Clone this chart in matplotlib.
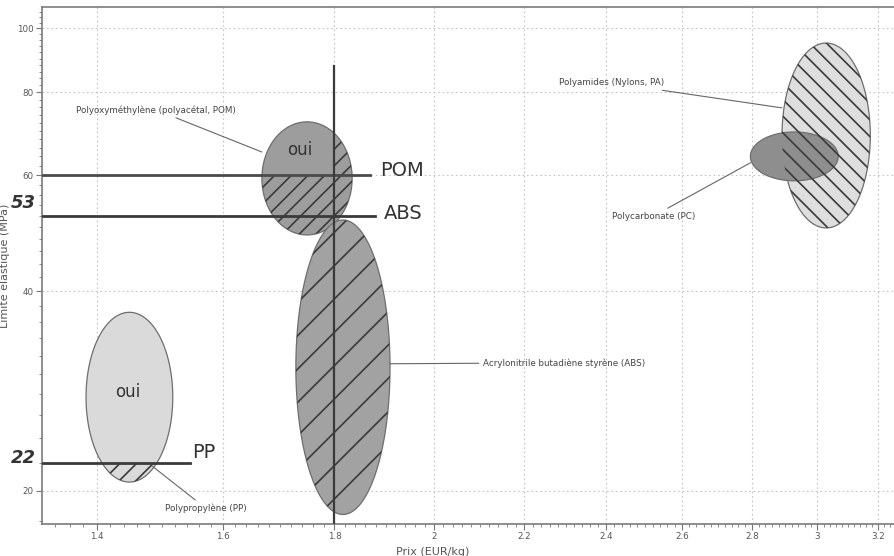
import numpy as np
import matplotlib
matplotlib.use("Agg")
import matplotlib.pyplot as plt
from matplotlib.patches import Polygon, Rectangle
from matplotlib.ticker import FixedLocator, FixedFormatter, NullFormatter

# plages des materiaux (prix EUR/kg, limite elastique MPa)
materiaux = ["POM", "ABS", "PP", "PA", "PC"]
prix_min = [1.667, 1.728, 1.384, 2.89, 2.795]
prix_max = [1.834, 1.909, 1.517, 3.173, 3.067]
lim_min = [48.7, 18.4, 20.6, 49.9, 58.8]
lim_max = [72.2, 51.3, 37.2, 95.0, 69.7]
couleurs = ["#9d9d9d", "#a2a2a2", "#dadada", "#dedede", "#8e8e8e"]

# noms et position des etiquettes (texte, pointe du trait)
noms = ["Polyoxyméthylène (polyacétal, POM)", "Acrylonitrile butadiène styrène (ABS)",
        "Polypropylène (PP)", "Polyamides (Nylons, PA)", "Polycarbonate (PC)"]
nom_x = [1.49, 2.106, 1.571, 2.413, 2.522]
nom_y = [75.3, 31.2, 18.8, 82.7, 52.0]
pointe_x = [1.667, 1.909, 1.485, 2.89, 2.795]
pointe_y = [65.0, 31.1, 21.75, 75.8, 62.6]

# traits a la main
seuil_pom = 60
seuil_abs = 52
seuil_pp = 22
prix_vertical = 1.8

xticks = [1.4, 1.6, 1.8, 2, 2.2, 2.4, 2.6, 2.8, 3, 3.2]
xlabels = ["1.4", "1.6", "1.8", "2", "2.2", "2.4", "2.6", "2.8", "3", "3.2"]
yticks = [20, 40, 60, 80, 100]

XMIN, XMAX = 1.321, 3.257
YMIN, YMAX = 17.8, 107.7

plt.rcParams["hatch.linewidth"] = 1.2
plt.rcParams["font.family"] = "DejaVu Sans"

fig = plt.figure(figsize=(8.95, 5.56), dpi=100)
ax = fig.add_axes([42 / 895, 32 / 556, 853 / 895, 517 / 556])
ax.set_xscale("log")
ax.set_yscale("log")
ax.set_xlim(XMIN, XMAX)
ax.set_ylim(YMIN, YMAX)


def ellipse(i):
    # ellipse dans l'espace log (comme le diagramme d'Ashby)
    cx = np.sqrt(prix_min[i] * prix_max[i])
    cy = np.sqrt(lim_min[i] * lim_max[i])
    rx = np.log(prix_max[i] / prix_min[i]) / 2
    ry = np.log(lim_max[i] / lim_min[i]) / 2
    t = np.linspace(0, 2 * np.pi, 200)
    xs = cx * np.exp(rx * np.cos(t))
    ys = cy * np.exp(ry * np.sin(t))
    return np.column_stack([xs, ys])


def hachure(i, x0, x1, y0, y1, motif, z):
    clip = Polygon(ellipse(i), closed=True, transform=ax.transData)
    r = Rectangle((x0, y0), x1 - x0, y1 - y0, facecolor="none", edgecolor="#3a3a3a",
                  linewidth=0, hatch=motif, zorder=z)
    ax.add_patch(r)
    r.set_clip_path(clip)


zs = [3, 3.5, 3, 3, 3.2]
for i in range(len(materiaux)):
    p = Polygon(ellipse(i), closed=True, facecolor=couleurs[i], edgecolor="#6e6e6e",
                linewidth=0.9, zorder=zs[i])
    ax.add_patch(p)

# hachures a la main
hachure(0, XMIN, XMAX, YMIN, seuil_pom, "//", 3.1)
hachure(0, prix_vertical, XMAX, seuil_pom, YMAX, "//", 3.1)
hachure(1, XMIN, XMAX, YMIN, YMAX, "/", 3.6)
hachure(2, XMIN, XMAX, YMIN, seuil_pp, "//", 3.1)
hachure(3, XMIN, XMAX, YMIN, YMAX, "\\\\", 3.4)

# etiquettes avec trait
for i in range(len(noms)):
    ha = "left" if i == 1 else "center"
    ax.annotate(noms[i], xy=(pointe_x[i], pointe_y[i]), xytext=(nom_x[i], nom_y[i]),
                ha=ha, va="center", fontsize=6.3, color="#444444", zorder=6,
                arrowprops=dict(arrowstyle="-", color="#666666", lw=0.8,
                                shrinkA=1, shrinkB=0))

# traits et annotations manuscrits
ax.plot([XMIN, 1.869], [seuil_pom, seuil_pom], color="#4a4a4a", lw=2, zorder=5)
ax.plot([XMIN, 1.879], [seuil_abs, seuil_abs], color="#3a3a3a", lw=2, zorder=5)
ax.plot([XMIN, 1.545], [seuil_pp, seuil_pp], color="#3a3a3a", lw=2, zorder=5)
ax.plot([prix_vertical, prix_vertical], [YMIN, 87.7], color="#3a3a3a", lw=1.6, zorder=5)

ax.text(1.889, 61, "POM", fontsize=14, color="#333333", va="center", zorder=6)
ax.text(1.897, 52.4, "ABS", fontsize=14, color="#333333", va="center", zorder=6)
ax.text(1.548, 22.8, "PP", fontsize=14, color="#333333", va="center", zorder=6)
ax.text(1.735, 65.5, "oui", fontsize=12, color="#333333", ha="center", va="center", zorder=6)
ax.text(1.447, 28.2, "oui", fontsize=12, color="#333333", ha="center", va="center", zorder=6)
ax.text(1.295, 54.5, "53", fontsize=13, fontweight="bold", fontstyle="italic",
        color="#333333", ha="center", va="center", clip_on=False, zorder=7)
ax.text(1.295, 22.4, "22", fontsize=13, fontweight="bold", fontstyle="italic",
        color="#333333", ha="center", va="center", clip_on=False, zorder=7)

# axes
ax.xaxis.set_major_locator(FixedLocator(xticks))
ax.xaxis.set_major_formatter(FixedFormatter(xlabels))
ax.xaxis.set_minor_locator(FixedLocator(np.arange(1.32, 3.26, 0.02)))
ax.xaxis.set_minor_formatter(NullFormatter())
ax.yaxis.set_major_locator(FixedLocator(yticks))
ax.yaxis.set_major_formatter(FixedFormatter([str(v) for v in yticks]))
ax.yaxis.set_minor_locator(FixedLocator(np.arange(18, 108, 2)))
ax.yaxis.set_minor_formatter(NullFormatter())
ax.tick_params(which="major", length=4, width=0.8, color="#777777", labelsize=6.3,
               labelcolor="#555555", pad=2)
ax.tick_params(which="minor", length=2, width=0.7, color="#888888")

ax.grid(True, which="major", linestyle=(0, (1.5, 2.5)), color="#c4c4c4", lw=0.8, zorder=0)
ax.set_axisbelow(True)
for s in ["left", "bottom", "top"]:
    ax.spines[s].set_color("#7a7a7a")
    ax.spines[s].set_linewidth(1.2)
ax.spines["right"].set_visible(False)

ax.set_xlabel("Prix (EUR/kg)", fontsize=8, color="#555555")
ax.xaxis.set_label_coords(0.458, -0.045)
ax.set_ylabel("Limite élastique (MPa)", fontsize=8, color="#555555")
ax.yaxis.set_label_coords(-0.037, 0.5)

plt.savefig("out.png", dpi=100)
